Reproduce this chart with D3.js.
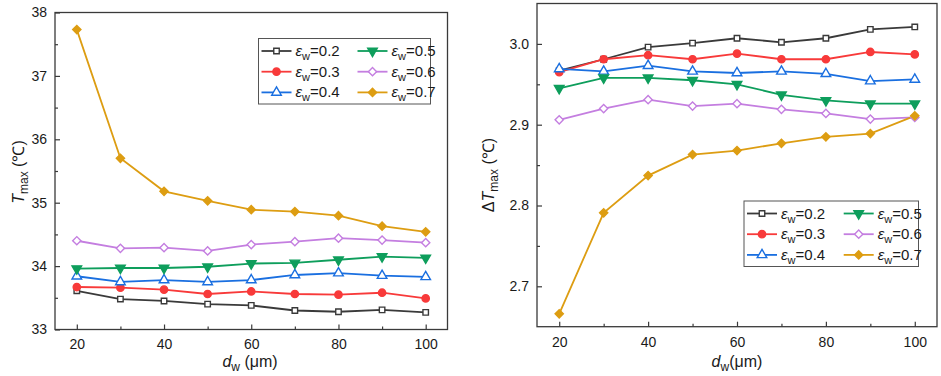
<!DOCTYPE html>
<html>
  <head>
    <script src="https://d3js.org/d3.v7.min.js" charset="utf-8"></script>
    <style>
      body { margin: 0; background: #fff; }
      svg { font-family: "Liberation Sans", Arial, sans-serif; }
    </style>
  </head>
  <body>
    <svg id="chart" width="941" height="376"></svg>
    <script>
      // data
      const dw = [20, 30, 40, 50, 60, 70, 80, 90, 100];
      const epsW = ["0.2", "0.3", "0.4", "0.5", "0.6", "0.7"];

      const tmax02 = [33.61, 33.48, 33.45, 33.40, 33.38, 33.30, 33.28, 33.31, 33.27];
      const tmax03 = [33.67, 33.66, 33.63, 33.56, 33.60, 33.56, 33.55, 33.58, 33.49];
      const tmax04 = [33.84, 33.75, 33.78, 33.75, 33.78, 33.86, 33.89, 33.85, 33.83];
      const tmax05 = [33.96, 33.97, 33.97, 33.99, 34.04, 34.05, 34.10, 34.15, 34.13];
      const tmax06 = [34.40, 34.28, 34.29, 34.24, 34.34, 34.385, 34.44, 34.41, 34.37];
      const tmax07 = [37.73, 35.70, 35.18, 35.03, 34.89, 34.86, 34.795, 34.63, 34.54];

      const dtmax02 = [2.967, 2.981, 2.996, 3.001, 3.007, 3.002, 3.007, 3.018, 3.021];
      const dtmax03 = [2.965, 2.981, 2.986, 2.981, 2.988, 2.981, 2.981, 2.990, 2.987];
      const dtmax04 = [2.969, 2.966, 2.973, 2.966, 2.964, 2.966, 2.963, 2.954, 2.956];
      const dtmax05 = [2.945, 2.958, 2.958, 2.955, 2.950, 2.937, 2.930, 2.926, 2.926];
      const dtmax06 = [2.906, 2.920, 2.931, 2.923, 2.926, 2.919, 2.914, 2.907, 2.909];
      const dtmax07 = [2.666, 2.791, 2.837, 2.863, 2.868, 2.877, 2.885, 2.889, 2.911];

      const leftTicks = [33, 34, 35, 36, 37, 38];
      const rightTicks = [2.7, 2.8, 2.9, 3.0];
      const xTicks = [20, 40, 60, 80, 100];

      const colors = ["#3a3a3a", "#f83a3a", "#1a6fe0", "#0e9e5c", "#c47ee0", "#dd9d12"];
      const shapes = ["square", "circle", "triUp", "triDown", "diamond", "diamond"];
      const filled = [false, true, false, true, false, true];

      const svg = d3.select("#chart");

      function markerPath(shape) {
        if (shape == "square") return d3.symbol().type(d3.symbolSquare).size(30)();
        if (shape == "circle") return d3.symbol().type(d3.symbolCircle).size(42)();
        if (shape == "diamond") return d3.symbol().type(d3.symbolSquare).size(34)();
        return d3.symbol().type(d3.symbolTriangle).size(40)();
      }
      function markerRot(shape) {
        if (shape == "diamond") return 45;
        if (shape == "triDown") return 180;
        return 0;
      }

      function panel(opt) {
        const g = svg.append("g");
        const x = d3.scaleLinear().domain([15, 105]).range([opt.left, opt.right]);
        const y = d3.scaleLinear().domain(opt.yDomain).range([opt.bottom, opt.top]);

        // frame
        g.append("rect")
          .attr("x", opt.left).attr("y", opt.top)
          .attr("width", opt.right - opt.left).attr("height", opt.bottom - opt.top)
          .attr("fill", "none").attr("stroke", "#3a3a3a").attr("stroke-width", 1.3);

        // x axis, ticks pointing inward
        const xMinor = d3.range(30, 100, 20);
        g.append("g").attr("transform", `translate(0,${opt.bottom})`)
          .call(d3.axisBottom(x).tickValues(xTicks).tickSize(-5).tickPadding(10));
        g.append("g").attr("transform", `translate(0,${opt.bottom})`)
          .call(d3.axisBottom(x).tickValues(xMinor).tickSize(-3).tickFormat(""));

        g.append("g").attr("transform", `translate(${opt.left},0)`)
          .call(d3.axisLeft(y).tickValues(opt.yTicks).tickSize(-5).tickPadding(8).tickFormat(opt.fmt));
        g.append("g").attr("transform", `translate(${opt.left},0)`)
          .call(d3.axisLeft(y).tickValues(opt.yMinor).tickSize(-3).tickFormat(""));

        g.selectAll(".domain").remove();
        g.selectAll(".tick line").attr("stroke", "#3a3a3a").attr("stroke-width", 1.2);
        g.selectAll(".tick text").attr("fill", "#1a1a1a").style("font-size", "14px");

        const line = d3.line().x((d, i) => x(dw[i])).y(d => y(d));
        opt.series.forEach((vals, k) => {
          g.append("path").attr("d", line(vals))
            .attr("fill", "none").attr("stroke", colors[k]).attr("stroke-width", 1.8);
        });
        opt.series.forEach((vals, k) => {
          g.append("g").selectAll("path").data(vals).join("path")
            .attr("d", markerPath(shapes[k]))
            .attr("transform", (d, i) => `translate(${x(dw[i])},${y(d)}) rotate(${markerRot(shapes[k])})`)
            .attr("fill", filled[k] ? colors[k] : "#fff")
            .attr("stroke", colors[k]).attr("stroke-width", 1.4);
        });

        // legend
        const lg = opt.legend;
        g.append("rect").attr("x", lg.x).attr("y", lg.y).attr("width", lg.w).attr("height", lg.h)
          .attr("fill", "#fff").attr("stroke", "#555").attr("stroke-width", 1);
        epsW.forEach((e, k) => {
          const col = Math.floor(k / 3), row = k % 3;
          const lx = lg.x + 3 + col * lg.colW;
          const ly = lg.y + 12.5 + row * 20.7;
          g.append("line").attr("x1", lx).attr("x2", lx + 30).attr("y1", ly).attr("y2", ly)
            .attr("stroke", colors[k]).attr("stroke-width", 1.8);
          g.append("path").attr("d", markerPath(shapes[k]))
            .attr("transform", `translate(${lx + 15},${ly}) rotate(${markerRot(shapes[k])})`)
            .attr("fill", filled[k] ? colors[k] : "#fff")
            .attr("stroke", colors[k]).attr("stroke-width", 1.4);
          const t = g.append("text").attr("x", lx + 34).attr("y", ly + 5)
            .attr("fill", "#1a1a1a").style("font-size", "15px");
          t.append("tspan").text("ε").style("font-style", "italic");
          t.append("tspan").text("w").attr("dy", 4).style("font-size", "11px");
          t.append("tspan").text("=" + e).attr("dy", -4);
        });

        // axis titles
        const xt = g.append("text").attr("x", opt.xTitleX).attr("y", 367)
          .attr("text-anchor", "middle").attr("fill", "#1a1a1a").style("font-size", "16px");
        xt.append("tspan").text("d").style("font-style", "italic");
        xt.append("tspan").text("w").attr("dy", 4).style("font-size", "12px");
        xt.append("tspan").text(opt.xGap + "(μm)").attr("dy", -4);

        const yt = g.append("text")
          .attr("transform", `translate(${opt.yTitleX},${opt.yTitleY}) rotate(-90)`)
          .attr("text-anchor", "middle").attr("fill", "#1a1a1a").style("font-size", "16px");
        if (opt.delta) yt.append("tspan").text("Δ");
        yt.append("tspan").text("T").style("font-style", "italic");
        yt.append("tspan").text("max").attr("dy", 4).style("font-size", "12px");
        yt.append("tspan").text(" (℃)").attr("dy", -4);
      }

      panel({
        left: 55, right: 447.5, top: 12.5, bottom: 329.5,
        yDomain: [33, 38], yTicks: leftTicks, yMinor: d3.range(33.5, 38, 1), fmt: d3.format("d"),
        series: [tmax02, tmax03, tmax04, tmax05, tmax06, tmax07],
        legend: { x: 258.5, y: 38.5, w: 172, h: 65.5, colW: 96 },
        xTitleX: 250, xGap: " ", yTitleX: 24, yTitleY: 172, delta: false
      });

      panel({
        left: 537, right: 937, top: 3.5, bottom: 326.7,
        yDomain: [2.65, 3.05], yTicks: rightTicks, yMinor: [2.75, 2.85, 2.95], fmt: d3.format(".1f"),
        series: [dtmax02, dtmax03, dtmax04, dtmax05, dtmax06, dtmax07],
        legend: { x: 744, y: 201, w: 174.5, h: 65.5, colW: 96.7 },
        xTitleX: 737, xGap: "", yTitleX: 494, yTitleY: 175, delta: true
      });
    </script>
  </body>
</html>
